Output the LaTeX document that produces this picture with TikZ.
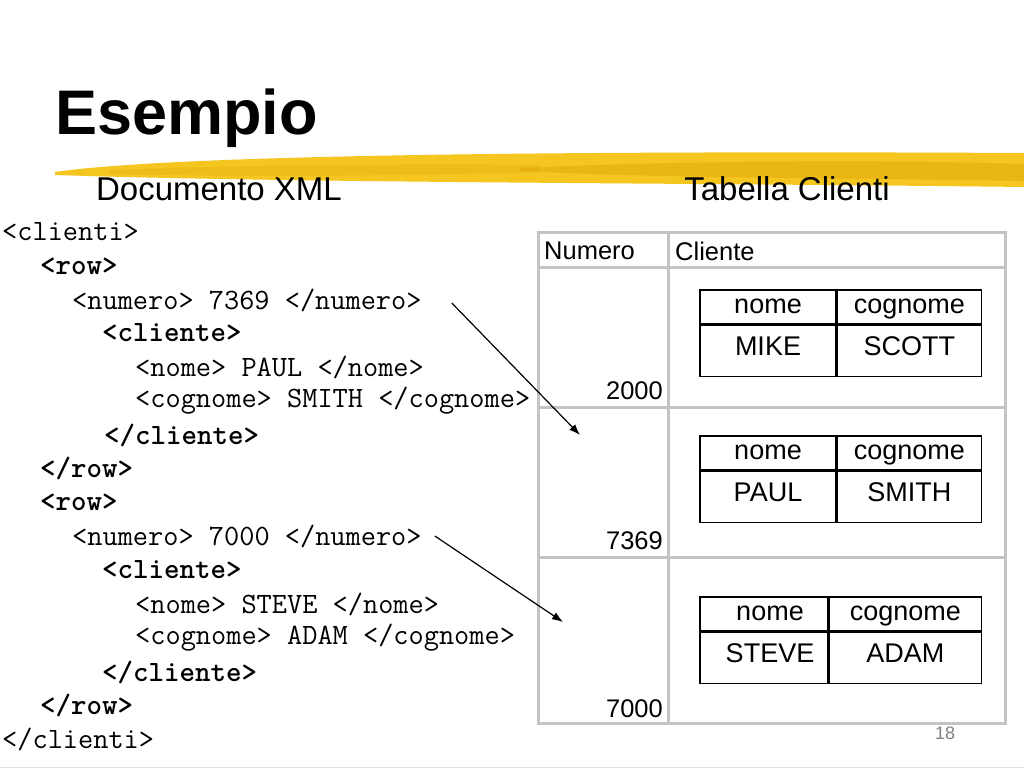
\documentclass[tikz,border=0pt]{standalone}
\usepackage{fontspec}
\setmainfont{Liberation Sans}
\usepackage{tikz}
\usetikzlibrary{calc,positioning,arrows.meta}
\definecolor{brush}{HTML}{F4C61F}
\definecolor{brushdark}{HTML}{E3A90C}
\definecolor{grid}{HTML}{C4C4C4}
\newcommand\xmlfont{\fontsize{29.5}{30}\selectfont\ttfamily}
\newcommand\cellfont{\fontsize{27}{29}\selectfont}
\tikzstyle{xml} = [anchor=west, inner sep=0pt, font=\xmlfont]
\tikzstyle{xmlb} = [xml, font=\xmlfont\bfseries]
\tikzstyle{head} = [inner sep=0pt, font=\fontsize{33}{35}\selectfont]
\tikzstyle{num} = [inner sep=0pt, font=\fontsize{25.5}{27}\selectfont]
\tikzstyle{cell} = [rectangle, draw, line width=1.3pt, inner sep=0pt,
    minimum height=34pt, text height=19pt, text depth=6pt, font=\cellfont]
\tikzstyle{val} = [cell, minimum height=51pt, text depth=10pt]
\tikzstyle{line} = [draw, line width=1.2pt, -{Latex[length=11pt,width=8pt]}]
\tikzstyle{gridline} = [draw=grid, line width=3pt]

\begin{document}
\begin{tikzpicture}[x=1pt, y=-1pt]
        \useasboundingbox[fill=white] (0,0) rectangle (1024,768);
        % Brush stroke under the title
        \fill[brush] (55,172) .. controls (150,158) and (450,150) .. (1024,153)
            -- (1024,187) .. controls (700,183) and (300,183) .. (55,175) -- cycle;
        \fill[brushdark, opacity=0.55] (520,168) .. controls (700,160) and (900,160) .. (1024,164)
            -- (1024,181) .. controls (850,178) and (650,178) .. (520,171) -- cycle;
        \fill[brushdark, opacity=0.35] (110,170) .. controls (250,165) and (400,164) .. (540,165)
            -- (540,172) .. controls (400,176) and (250,177) .. (110,174) -- cycle;
        \draw[grid!50, line width=1pt] (0,767) -- (1024,767);
        % Place nodes
        \node[anchor=west, inner sep=0pt, font=\fontsize{63}{65}\selectfont\bfseries] (title) at (55,118) {Esempio};
        \node[head] (docxml) at (219,189) {Documento XML};
        \node[head] (tabcli) at (787,189) {Tabella Clienti};
        \node[xml] (l1) at (2,232) {<clienti>};
        \node[xmlb] (l2) at (40,266) {<row>};
        \node[xml] (num1) at (72,300) {<numero> 7369 </numero>};
        \node[xmlb] (l4) at (102,333) {<cliente>};
        \node[xml] (l5) at (135,367) {<nome> PAUL </nome>};
        \node[xml] (l6) at (135,401) {<cognome> SMITH </cognome>};
        \node[xmlb] (l7) at (104,435) {</cliente>};
        \node[xmlb] (l8) at (40,468) {</row>};
        \node[xmlb] (l9) at (40,502) {<row>};
        \node[xml] (num2) at (72,536) {<numero> 7000 </numero>};
        \node[xmlb] (l11) at (102,570) {<cliente>};
        \node[xml] (l12) at (135,604) {<nome> STEVE </nome>};
        \node[xml] (l13) at (135,638) {<cognome> ADAM </cognome>};
        \node[xmlb] (l14) at (102,672) {</cliente>};
        \node[xmlb] (l15) at (40,705) {</row>};
        \node[xml] (l16) at (2,739) {</clienti>};
        % Outer table
        \draw[gridline] (538,232) rectangle (1005,723);
        \draw[gridline] (538,267) -- (1005,267);
        \draw[gridline] (538,407) -- (1005,407);
        \draw[gridline] (538,557) -- (1005,557);
        \draw[gridline] (668,232) -- (668,723);
        \node[num, anchor=west] (hnum) at (544,251) {Numero};
        \node[num, anchor=west] (hcli) at (675,251) {Cliente};
        \node[num, anchor=east] (n2000) at (663,391) {2000};
        \node[num, anchor=east] (n7369) at (663,541) {7369};
        \node[num, anchor=east] (n7000) at (663,709) {7000};
        % Inner tables
        \node[cell, minimum width=136pt] (nomeA) at (768,307) {nome};
        \node[cell, minimum width=144pt, right=0pt of nomeA] (cognA) {cognome};
        \node[val, minimum width=136pt, below=0pt of nomeA] (valnA) {MIKE};
        \node[val, minimum width=144pt, right=0pt of valnA] (valcA) {SCOTT};
        \node[cell, minimum width=136pt] (nomeB) at (768,453) {nome};
        \node[cell, minimum width=144pt, right=0pt of nomeB] (cognB) {cognome};
        \node[val, minimum width=136pt, below=0pt of nomeB] (valnB) {PAUL};
        \node[val, minimum width=144pt, right=0pt of valnB] (valcB) {SMITH};
        \node[cell, minimum width=128pt] (nomeC) at (764,614) {\hspace*{12pt}nome};
        \node[cell, minimum width=152pt, right=0pt of nomeC] (cognC) {cognome};
        \node[val, minimum width=128pt, below=0pt of nomeC] (valnC) {\hspace*{12pt}STEVE};
        \node[val, minimum width=152pt, right=0pt of valnC] (valcC) {ADAM};
        \node[inner sep=0pt, text=gray, font=\fontsize{18}{20}\selectfont] (page) at (945,733) {18};
        \coordinate (tgt1) at (580,435);
        \coordinate (tgt2) at (563,622);
        % Draw edges
        \path [line] ([xshift=30pt,yshift=-3pt]num1.east) -- (tgt1);
        \path [line] ([xshift=13pt]num2.east) -- (tgt2);
    \end{tikzpicture}
\end{document}
